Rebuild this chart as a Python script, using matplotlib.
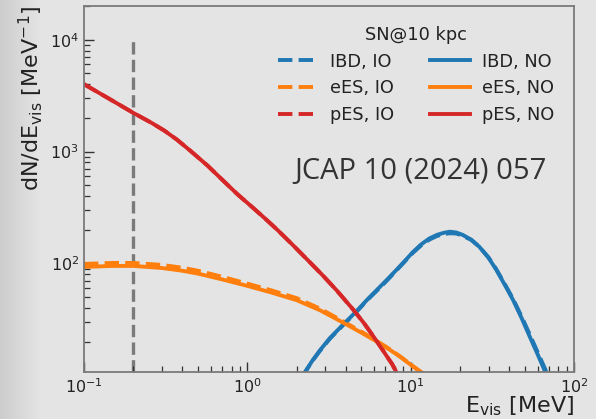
import matplotlib
matplotlib.use("Agg")
import matplotlib.pyplot as plt
import numpy as np

# Visible-energy points and event spectra (events per MeV)
e_pes = [0.10, 0.14, 0.20, 0.26, 0.31, 0.37, 0.45, 0.57, 0.72, 0.87, 1.05, 1.28, 1.53,
         1.90, 2.33, 2.90, 3.52, 4.46, 5.20, 5.91, 6.50, 7.14, 7.70, 8.22, 8.60]
pes_no = [4000, 3010, 2220, 1800, 1540, 1280, 1010, 750, 540, 415, 327, 253, 199,
          146, 108, 78, 57.5, 38.5, 29, 22.3, 18.2, 14.8, 12.6, 10.5, 9.4]
pes_io = [4000, 3010, 2220, 1800, 1540, 1280, 1010, 750, 540, 415, 327, 253, 199,
          146, 108, 78, 57.5, 38.5, 29, 22.3, 18.2, 14.8, 12.6, 10.5, 9.4]

e_ees = [0.10, 0.15, 0.20, 0.30, 0.40, 0.50, 0.70, 1.00, 1.40, 2.00, 2.80, 3.87,
         5.00, 6.20, 7.50, 8.64, 10.4, 11.7, 12.2]
ees_no = [93, 95, 95, 91, 86, 81, 72, 63, 55, 47, 38, 29.5,
          24, 20, 16.8, 14.6, 11.9, 10.5, 9.7]
ees_io = [99, 101, 101, 97, 91.5, 86, 76, 66, 57.5, 49, 39.3, 30.3,
          24.5, 20.3, 17.0, 14.7, 12.0, 10.6, 9.8]

e_ibd = [2.15, 2.25, 2.50, 2.79, 3.20, 3.87, 4.67, 5.50, 6.43, 7.20, 8.15, 9.20, 10.3,
         11.6, 13.0, 14.5, 16.0, 17.4, 19.0, 20.8, 23.5, 26.3, 30.0, 33.4, 38.0,
         42.4, 48.0, 53.7, 60.0, 66.9, 69.0]
ibd_no = [9.6, 10.6, 13.5, 16.8, 21.5, 28.5, 37.5, 48.5, 61, 72, 87, 105, 126,
          148, 167, 180, 188, 192, 189, 180, 163, 141, 112, 88, 63,
          47, 32, 22, 15.3, 10.6, 9.6]
ibd_io = [9.6, 10.6, 13.4, 16.6, 21.2, 28.2, 37.0, 48.0, 60, 71, 86, 104, 124,
          145, 163, 176, 183, 186, 185, 177, 162, 141, 113, 89, 64,
          48, 33, 23, 16.0, 11.2, 10.0]

threshold = 0.2
x_range = (0.1, 100)
y_range = (10.7, 2e4)

blue, orange, red = "#1f77b4", "#ff7f0e", "#d62728"
bg = "#e4e4e4"

fig = plt.figure(figsize=(5.96, 4.19), dpi=100, facecolor=bg)

# soft darker band along the left edge of the slide
band = fig.add_axes([0, 0, 40 / 596, 1], zorder=-5)
grad = np.linspace(0, 1, 64)[None, :]
band.imshow(grad, aspect="auto", cmap=matplotlib.colors.LinearSegmentedColormap.from_list(
    "edge", ["#cdcdcd", bg]), extent=(0, 1, 0, 1))
band.set_axis_off()

ax = fig.add_axes([84 / 596, 1 - 372 / 419, 490 / 596, 366 / 419], facecolor=bg)

lw = 2.8
ax.plot(e_ibd, ibd_io, "--", color=blue, lw=lw, label="IBD, IO")
ax.plot(e_ees, ees_io, "--", color=orange, lw=lw, label="eES, IO")
ax.plot(e_pes, pes_io, "--", color=red, lw=lw, label="pES, IO")
ax.plot(e_ibd, ibd_no, "-", color=blue, lw=lw, label="IBD, NO")
ax.plot(e_ees, ees_no, "-", color=orange, lw=lw, label="eES, NO")
ax.plot(e_pes, pes_no, "-", color=red, lw=lw, label="pES, NO")

ax.vlines(threshold, y_range[0], 1e4, colors="#7a7a7a", linestyles="--", lw=2.4, zorder=1)

ax.set_xscale("log")
ax.set_yscale("log")
ax.set_xlim(*x_range)
ax.set_ylim(*y_range)

for side in ["left", "bottom", "top", "right"]:
    ax.spines[side].set_color("#7a7a7a")
    ax.spines[side].set_linewidth(1.3)

ax.tick_params(which="both", direction="in", colors="#333333", labelcolor="#222222",
               labelsize=11.5, top=False, right=False)
ax.tick_params(which="major", length=7, width=1.0)
ax.tick_params(which="minor", length=4.5, width=0.9)

ax.set_xlabel(r"E$_{\rm vis}$ [MeV]", fontsize=16, loc="right", color="#222222", labelpad=-1)
ax.set_ylabel(r"dN/dE$_{\rm vis}$ [MeV$^{-1}$]", fontsize=16, loc="top", color="#222222", labelpad=4)

leg = ax.legend(ncol=2, title="SN@10 kpc", frameon=False, fontsize=12.8,
                title_fontsize=12.8, handlelength=2.25, handletextpad=0.67,
                columnspacing=2.0, labelspacing=0.5, loc="upper right",
                bbox_to_anchor=(0.992, 0.99))
for t in leg.get_texts():
    t.set_color("#222222")
leg.get_title().set_color("#222222")

fig.text(421 / 596, 1 - 171 / 419, "JCAP 10 (2024) 057", fontsize=21,
         family="Open Sans", color="#333333", ha="center", va="center")

fig.savefig("out.png", dpi=100, facecolor=bg)
